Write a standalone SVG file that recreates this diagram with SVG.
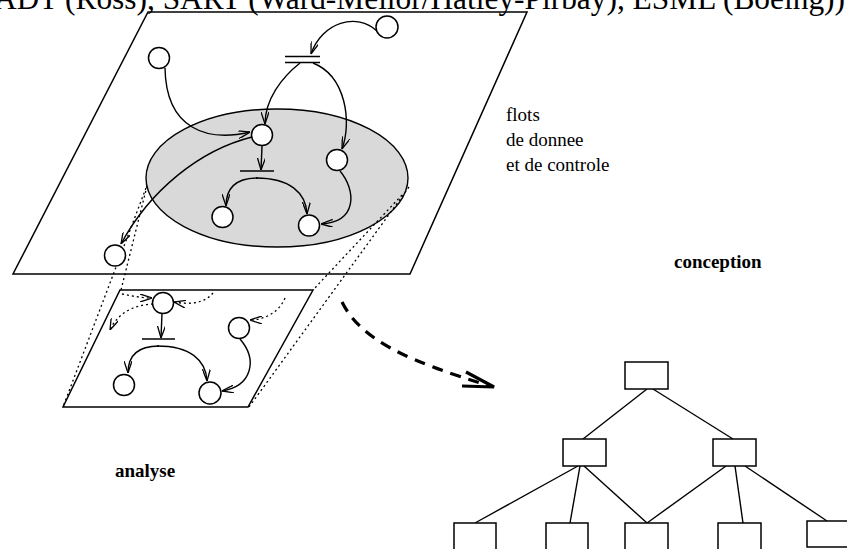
<svg xmlns="http://www.w3.org/2000/svg" width="847" height="549" viewBox="0 0 847 549">
  <style>
    .plane { fill: none; stroke: #000; stroke-width: 1.5; }
    .node { fill: #fff; stroke: #000; stroke-width: 1.5; }
    .box { fill: #fff; stroke: #000; stroke-width: 1.5; }
    .bar { stroke: #000; stroke-width: 1.5; fill: none; }
    .flow { fill: none; stroke: #000; stroke-width: 1.4; }
    .ctl { fill: none; stroke: #000; stroke-width: 1.3; stroke-dasharray: 2 3; }
    .proj { fill: none; stroke: #000; stroke-width: 1.3; stroke-dasharray: 2 3; }
    .edge { fill: none; stroke: #000; stroke-width: 1.4; }
    .big { fill: none; stroke: #000; stroke-width: 3.2; stroke-dasharray: 11 8; }
    .title { font-family: "Liberation Serif", "Times New Roman", serif; font-size: 31px; fill: #000; }
    .note { font-family: "Liberation Serif", "Times New Roman", serif; font-size: 19px; fill: #000; }
    .phase { font-family: "Liberation Serif", "Times New Roman", serif; font-size: 19px; font-weight: bold; fill: #000; }
  </style>
  <defs>
    <marker id="ah" viewBox="0 0 12 8" refX="12" refY="4" markerWidth="12" markerHeight="8" orient="auto" markerUnits="userSpaceOnUse">
      <path d="M0,0 L12,4 L0,8" fill="none" stroke="#000" stroke-width="1.3"/>
    </marker>
  </defs>

  <rect width="847" height="549" fill="#fff"/>

  <!-- method list, partly cut by the top edge -->
  <text class="title" x="58" y="8.5" text-anchor="end">SADT</text>
  <text class="title" x="65" y="8.5" textLength="780" lengthAdjust="spacingAndGlyphs">(Ross), SART (Ward-Mellor/Hatley-Pirbay), ESML (Boeing))</text>

  <!-- upper plane with the highlighted region -->
  <polygon class="plane" points="148,12 527,12 410,274 13,274"/>
  <ellipse cx="277" cy="178" rx="131" ry="69" fill="#d9d9d9" stroke="#000" stroke-width="1.4"/>

  <!-- lower plane -->
  <polygon class="plane" points="120,290 313,290 248,407 63,407"/>

  <!-- projection lines between the planes -->
  <g id="projection">
    <line class="proj" x1="146" y1="188" x2="63" y2="407"/>
    <line class="proj" x1="147" y1="186" x2="121" y2="290"/>
    <line class="proj" x1="402" y1="195" x2="313" y2="290"/>
    <line class="proj" x1="409" y1="187" x2="249" y2="407"/>
  </g>

  <g id="connectors">
    <!-- upper plane flows -->
    <path class="flow" d="M377,31 C357,12 322,22 311,54" marker-end="url(#ah)"/>
    <path class="flow" d="M300,63 C281,78 265,100 265,124" marker-end="url(#ah)"/>
    <path class="flow" d="M313,63 C346,76 352,122 342,149" marker-end="url(#ah)"/>
    <path class="flow" d="M165,68 C166,130 208,142 250,132" marker-end="url(#ah)"/>
    <path class="flow" d="M252,137 C200,150 150,190 121,244" marker-end="url(#ah)"/>
    <path class="flow" d="M262,146 L261,170" marker-end="url(#ah)"/>
    <path class="flow" d="M258,178 C236,178 226,188 226,206" marker-end="url(#ah)"/>
    <path class="flow" d="M256,178 C290,178 306,193 307,214" marker-end="url(#ah)"/>
    <path class="flow" d="M340,171 C356,190 358,222 321,224" marker-end="url(#ah)"/>

    <!-- lower plane flows -->
    <path class="flow" d="M162,313 L161,338" marker-end="url(#ah)"/>
    <path class="flow" d="M159,346 C139,346 128,355 128,373" marker-end="url(#ah)"/>
    <path class="flow" d="M157,346 C190,346 206,360 207,381" marker-end="url(#ah)"/>
    <path class="flow" d="M240,339 C258,360 252,386 222,391" marker-end="url(#ah)"/>

    <!-- lower plane control flows -->
    <path class="ctl" d="M122,294 C132,296 142,298 152,298" marker-end="url(#ah)"/>
    <path class="ctl" d="M153,304 C135,305 118,312 110,330" marker-end="url(#ah)"/>
    <path class="ctl" d="M213,293 C205,303 190,305 174,302" marker-end="url(#ah)"/>
    <path class="ctl" d="M285,298 C279,313 263,320 250,320" marker-end="url(#ah)"/>

    <!-- refinement arrow -->
    <path class="big" d="M342,302 C362,342 412,362 490,386"/>
    <path d="M466,372 L494,387 L462,386" fill="none" stroke="#000" stroke-width="3.2" stroke-linejoin="miter"/>

    <!-- structure chart -->
    <line class="edge" x1="647" y1="389" x2="583" y2="439"/>
    <line class="edge" x1="653" y1="389" x2="733" y2="439"/>
    <line class="edge" x1="578" y1="466" x2="475" y2="523"/>
    <line class="edge" x1="580" y1="466" x2="570" y2="523"/>
    <line class="edge" x1="584" y1="466" x2="647" y2="523"/>
    <line class="edge" x1="726" y1="466" x2="647" y2="523"/>
    <line class="edge" x1="735" y1="466" x2="743" y2="523"/>
    <line class="edge" x1="745" y1="466" x2="827" y2="521"/>
  </g>

  <!-- upper plane processes and synchronisations -->
  <g id="p-a"><circle class="node" cx="159" cy="58" r="10.5"/></g>
  <g id="p-b"><circle class="node" cx="387" cy="27" r="11"/></g>
  <g id="sync-1">
    <line class="bar" x1="285" y1="56.5" x2="320" y2="56.5"/>
    <line class="bar" x1="285" y1="62.5" x2="320" y2="62.5"/>
  </g>
  <g id="p-c"><circle class="node" cx="262" cy="135" r="10.5"/></g>
  <g id="p-d"><circle class="node" cx="337" cy="160" r="10.5"/></g>
  <g id="sync-2"><line class="bar" x1="240" y1="171" x2="274" y2="171"/></g>
  <g id="p-e"><circle class="node" cx="222.5" cy="217" r="10.5"/></g>
  <g id="p-f"><circle class="node" cx="309" cy="225.5" r="10.5"/></g>
  <g id="p-g"><circle class="node" cx="115" cy="255.5" r="10.5"/></g>

  <!-- lower plane processes -->
  <g id="q-h"><circle class="node" cx="163" cy="303" r="10.5"/></g>
  <g id="sync-3"><line class="bar" x1="142" y1="339" x2="175" y2="339"/></g>
  <g id="q-i"><circle class="node" cx="239" cy="328" r="10.5"/></g>
  <g id="q-j"><circle class="node" cx="124" cy="385" r="10.5"/></g>
  <g id="q-k"><circle class="node" cx="210" cy="393" r="11"/></g>

  <!-- structure chart modules -->
  <g id="m-root"><rect class="box" x="625" y="362" width="43" height="27"/></g>
  <g id="m-left"><rect class="box" x="563" y="439" width="43" height="27"/></g>
  <g id="m-right"><rect class="box" x="713" y="439" width="43" height="27"/></g>
  <g id="m-1"><rect class="box" x="454" y="523" width="42" height="28"/></g>
  <g id="m-2"><rect class="box" x="546" y="523" width="42" height="28"/></g>
  <g id="m-3"><rect class="box" x="625" y="523" width="43" height="28"/></g>
  <g id="m-4"><rect class="box" x="718" y="523" width="43" height="28"/></g>
  <g id="m-5"><rect class="box" x="807" y="521" width="43" height="26"/></g>

  <!-- labels -->
  <text class="note" x="506" y="121">flots</text>
  <text class="note" x="506" y="146">de donnee</text>
  <text class="note" x="506" y="171">et de controle</text>
  <text class="phase" x="674" y="268">conception</text>
  <text class="phase" x="115" y="477">analyse</text>
</svg>
